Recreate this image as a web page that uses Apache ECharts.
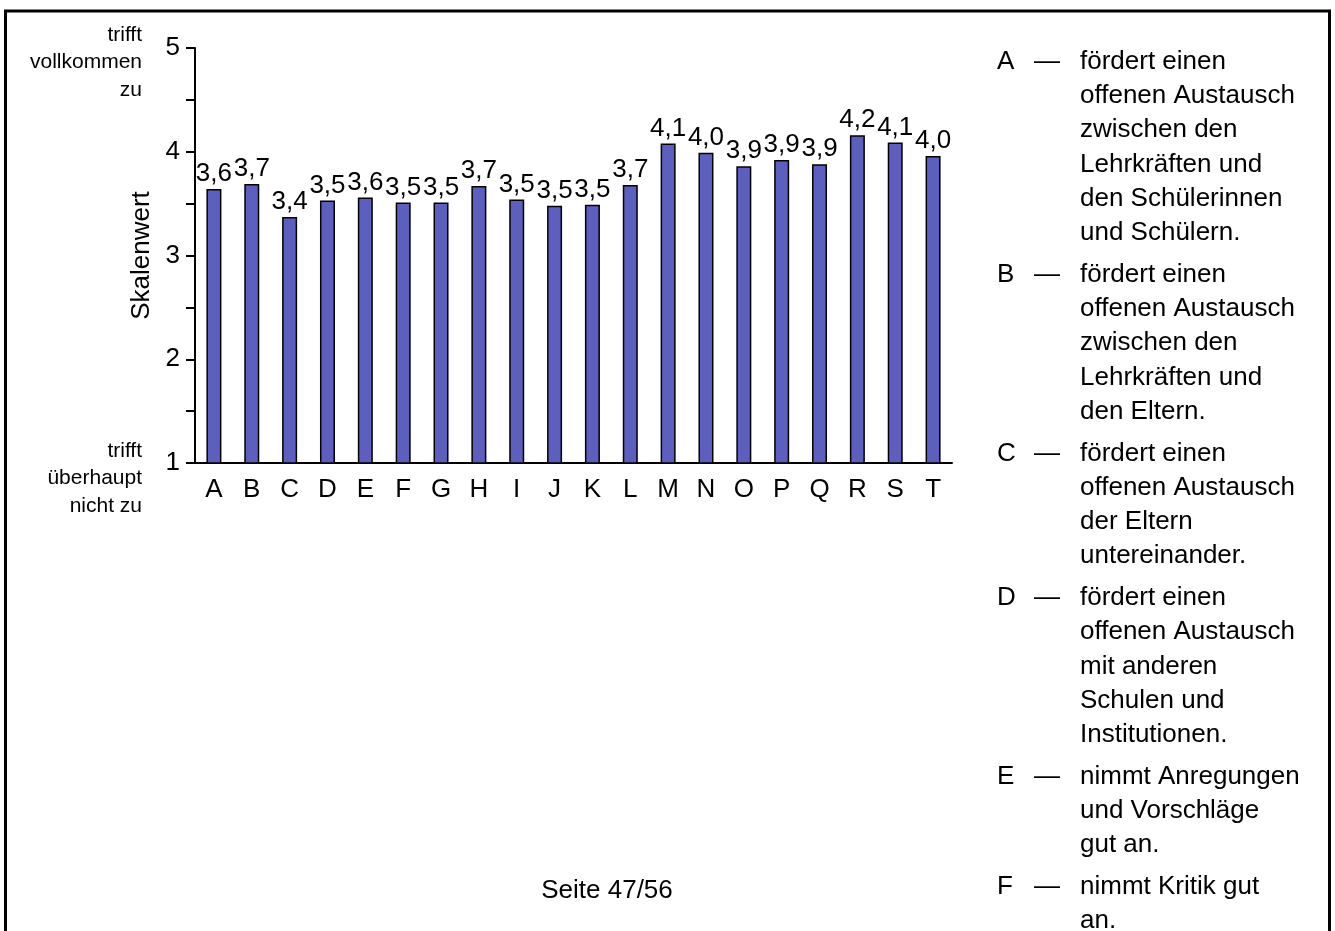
<!DOCTYPE html>
<html>
<head>
<meta charset="utf-8">
<script src="https://cdn.jsdelivr.net/npm/echarts@6/dist/echarts.min.js"></script>
<style>
html,body{margin:0;padding:0;background:#fff;}
#chart{width:1335px;height:931px;}
</style>
</head>
<body>
<div id="chart"></div>
<script>
// ---- data ----
const categories = ['A','B','C','D','E','F','G','H','I','J','K','L','M','N','O','P','Q','R','S','T'];
const values = [3.64,3.69,3.37,3.53,3.56,3.51,3.51,3.67,3.54,3.48,3.49,3.68,4.08,3.99,3.86,3.92,3.88,4.16,4.09,3.96];
const yMin = 1;
const yMax = 5;
const axisName = 'Skalenwert';
const topAnchorLabel = ['trifft','vollkommen','zu'];
const bottomAnchorLabel = ['trifft','überhaupt','nicht zu'];
const legendKeys = ['A','B','C','D','E','F'];
const legendTexts = [
  ['fördert einen','offenen Austausch','zwischen den','Lehrkräften und','den Schülerinnen','und Schülern.'],
  ['fördert einen','offenen Austausch','zwischen den','Lehrkräften und','den Eltern.'],
  ['fördert einen','offenen Austausch','der Eltern','untereinander.'],
  ['fördert einen','offenen Austausch','mit anderen','Schulen und','Institutionen.'],
  ['nimmt Anregungen','und Vorschläge','gut an.'],
  ['nimmt Kritik gut','an.']
];
const pageLabel = 'Seite 47/56';

// ---- chart ----
const FONT = '"Liberation Sans", Arial, Helvetica, sans-serif';
const chart = echarts.init(document.getElementById('chart'), null, {renderer:'canvas'});

const graphics = [];
// page border
graphics.push({type:'rect', shape:{x:5.5, y:11, width:1324, height:960}, style:{fill:'none', stroke:'#000', lineWidth:3}, silent:true, z:0});
// anchor labels
topAnchorLabel.forEach((t,i)=>{
  graphics.push({type:'text', style:{text:t, x:142, y:35+i*27.5, align:'right', verticalAlign:'middle', font:'21px '+FONT, fill:'#000'}});
});
bottomAnchorLabel.forEach((t,i)=>{
  graphics.push({type:'text', style:{text:t, x:142, y:451+i*27.5, align:'right', verticalAlign:'middle', font:'21px '+FONT, fill:'#000'}});
});
// legend
const LH = 34.3, GAP = 7.2;
let blockTop = 61.7 - LH/2;
legendKeys.forEach((k,i)=>{
  const lines = legendTexts[i];
  graphics.push({type:'text', style:{text:k, x:997, y:blockTop, verticalAlign:'top', lineHeight:LH, font:'26px '+FONT, fill:'#000'}});
  graphics.push({type:'text', style:{text:'—', x:1034, y:blockTop, verticalAlign:'top', lineHeight:LH, font:'26px '+FONT, fill:'#000'}});
  graphics.push({type:'text', style:{text:lines.join('\n'), x:1080, y:blockTop, verticalAlign:'top', lineHeight:LH, font:'26px '+FONT, fill:'#000'}});
  blockTop += lines.length*LH + GAP;
});
// page label
graphics.push({type:'text', style:{text:pageLabel, x:607, y:891, align:'center', verticalAlign:'middle', font:'26px '+FONT, fill:'#000'}});

const option = {
  animation:false,
  backgroundColor:'#fff',
  textStyle:{fontFamily:FONT},
  grid:{left:195, top:48, right:383, bottom:468, containLabel:false},
  xAxis:{
    type:'category',
    data:categories,
    axisLine:{show:true, lineStyle:{color:'#000', width:2}},
    axisTick:{show:false},
    axisLabel:{color:'#000', fontSize:26, margin:14, interval:0, fontFamily:FONT},
    splitLine:{show:false}
  },
  yAxis:{
    type:'value',
    min:yMin, max:yMax, interval:0.5,
    name:axisName, nameLocation:'middle', nameGap:40,
    nameTextStyle:{color:'#000', fontSize:26, fontFamily:FONT},
    axisLine:{show:true, lineStyle:{color:'#000', width:2}},
    axisTick:{show:true, length:9, lineStyle:{color:'#000', width:2}},
    axisLabel:{color:'#000', fontSize:26, margin:15, fontFamily:FONT,
      formatter:v=> (Math.abs(v-Math.round(v))<1e-9 ? String(Math.round(v)) : '')},
    splitLine:{show:false}
  },
  series:[{
    type:'bar',
    data:values,
    barWidth:15,
    itemStyle:{color:'#5d5fbf', borderColor:'#000', borderWidth:1.5},
    label:{show:true, position:'top', distance:2, color:'#000', fontSize:26, fontFamily:FONT,
      formatter:p=>p.value.toFixed(1).replace('.',',')}
  }],
  graphic:graphics
};
chart.setOption(option);
</script>
</body>
</html>
